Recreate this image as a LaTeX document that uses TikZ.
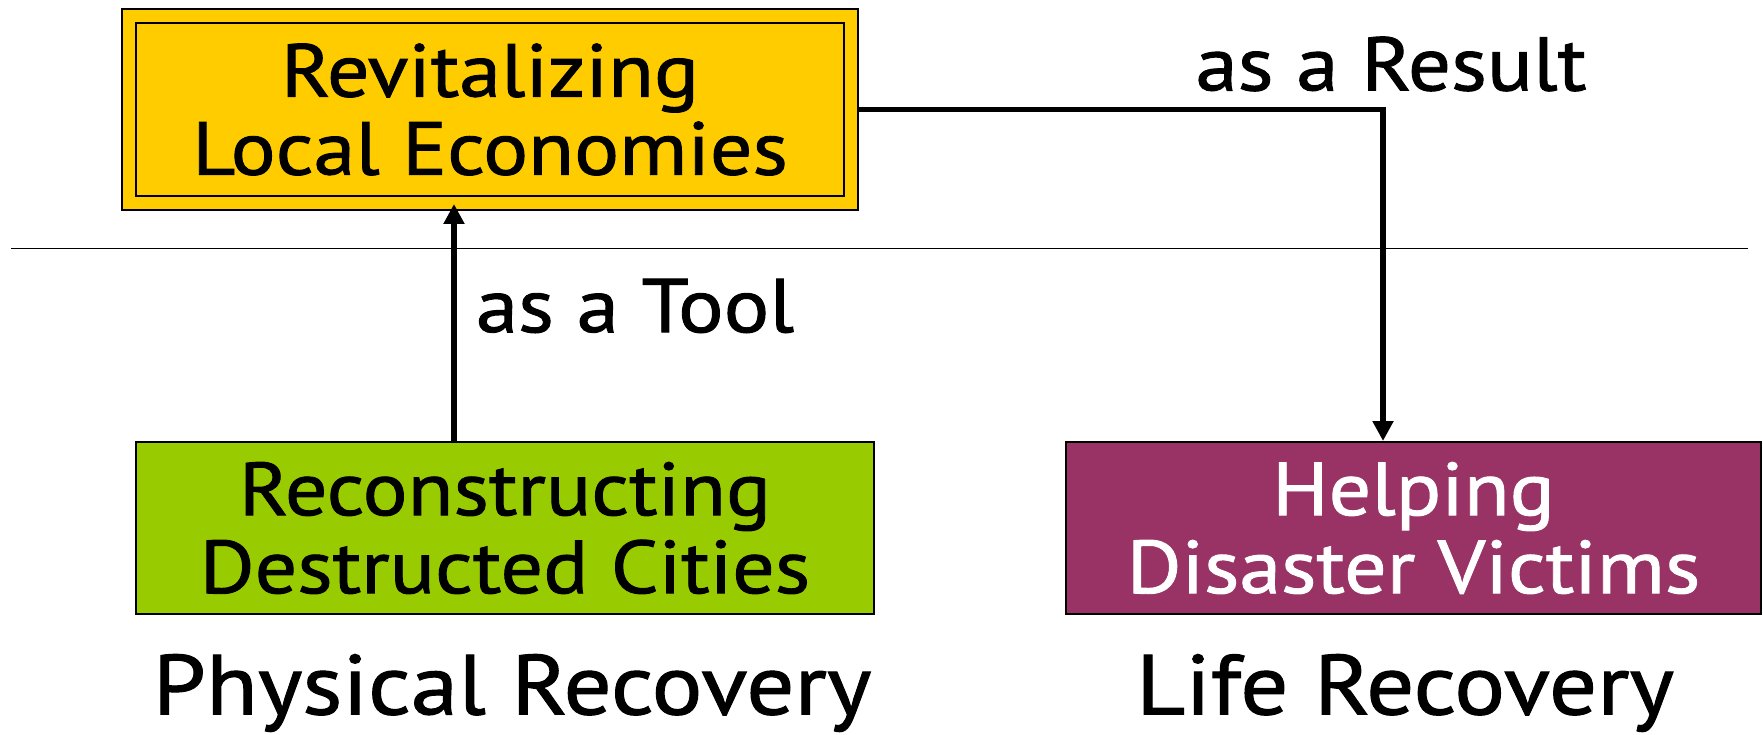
\documentclass[tikz,border=0pt]{standalone}
\usepackage{fontspec}
\setmainfont{PT Sans}[FakeStretch=1.12,FakeBold=1.2]
\usetikzlibrary{arrows.meta}
\definecolor{econyellow}{HTML}{FFCC00}
\definecolor{citygreen}{HTML}{99CC00}
\definecolor{victimpurple}{HTML}{993366}
\begin{document}
\begin{tikzpicture}[x=1pt,y=-1pt,
  box/.style={draw,line width=2pt,minimum height=172pt,align=center,inner sep=0pt,
    font=\fontsize{75}{78}\selectfont},
  link/.style={line width=5.5pt,-{Triangle[length=20pt,width=20pt]}},
  lbl/.style={font=\fontsize{76}{80}\selectfont,inner sep=0pt},
  big/.style={font=\fontsize{85}{90}\selectfont,inner sep=0pt}]

\useasboundingbox (0,0) rectangle (1763,735);

\coordinate (L) at (11,248.5);
\coordinate (R) at (1748,248.5);
\coordinate (toolx) at (454,0);
\coordinate (resultx) at (1383,0);

\node[box,fill=econyellow,double=econyellow,double distance=12pt,
  minimum width=722pt,minimum height=187pt] (econ) at (490,109.5)
  {Revitalizing\\Local Economies};
\node[box,fill=citygreen,minimum width=738pt] (cities) at (505,528)
  {Reconstructing\\Destructed Cities};
\node[box,fill=victimpurple,text=white,minimum width=695pt] (victims) at (1413.5,528)
  {Helping\\Disaster Victims};

\draw[line width=1.5pt] (L) -- (R);

\draw[link] (toolx |- cities.north) -- (toolx |- econ.south);
\draw[link] ([xshift=7pt]econ.east) -- (econ.east -| resultx) -- (resultx |- victims.north);

\node[lbl] (tool) at (635,306) {as a Tool};
\node[lbl] (result) at (1391,64) {as a Result};
\node[big] (physical) at (512,693) {Physical Recovery};
\node[big] (life) at (1405,693) {Life Recovery};

\end{tikzpicture}
\end{document}
